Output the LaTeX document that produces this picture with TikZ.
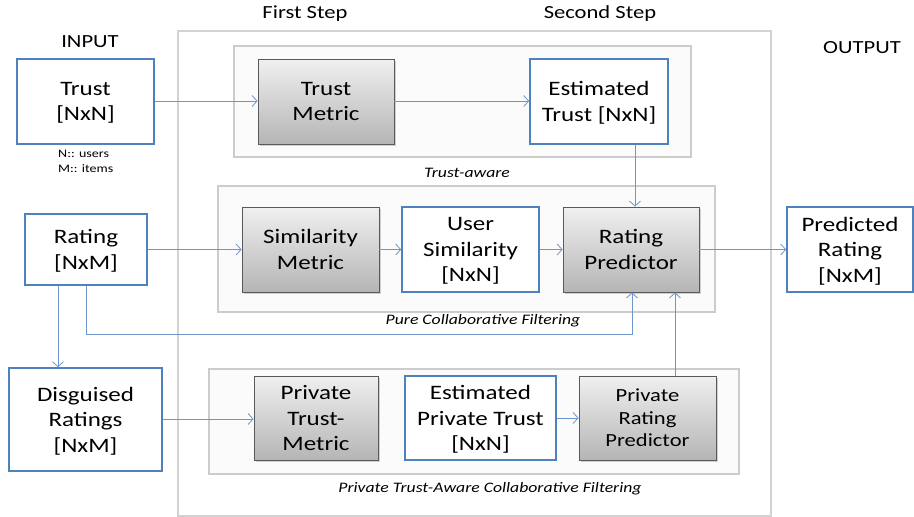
\documentclass[tikz,border=0pt]{standalone}
\usepackage{fontspec}
\setmainfont{Carlito}[FakeStretch=1.22]
\usetikzlibrary{arrows.meta,shadows}
\begin{document}
\begin{tikzpicture}[x=1pt,y=-1pt,
  panel/.style={draw=gray!35,line width=1.2pt,fill=white},
  group/.style={draw=gray!40,line width=1.2pt,fill=gray!3},
  data/.style={draw={rgb,255:red,79;green,129;blue,189},line width=1.6pt,fill=white,align=center,inner sep=0pt,text depth=-3pt,font=\fontsize{20.5}{25.5}\selectfont},
  proc/.style={draw=gray!70!black,line width=0.8pt,top color=gray!12,bottom color=gray!58,align=center,inner sep=0pt,text depth=-3pt,
    drop shadow={opacity=0.35,shadow xshift=1.5pt,shadow yshift=-1.5pt},font=\fontsize{20.5}{25.5}\selectfont},
  title/.style={font=\fontsize{18.5}{22}\selectfont},
  grouplabel/.style={font=\fontsize{14.5}{17}\selectfont\itshape},
  conn/.style={draw={rgb,255:red,110;green,150;blue,205},line width=0.8pt,-{Straight Barb[length=5pt,width=11pt]}}
]
\useasboundingbox (0,0) rectangle (914,517);
% panels
\draw[panel] (178,31) rectangle (771,516);
\draw[group] (234,46) rectangle (691,157);
\draw[group] (218,186) rectangle (715,312);
\draw[group] (209,369) rectangle (739,474);

% titles
\node[title] (tin) at (90,42) {INPUT};
\node[title] (tfs) at (305,14) {First Step};
\node[title] (tss) at (600,14) {Second Step};
\node[title] (tout) at (862,48) {OUTPUT};
\node[grouplabel] (gta) at (467,173) {Trust-aware};
\node[grouplabel] (gpc) at (483,321) {Pure Collaborative Filtering};
\node[grouplabel] (gptc) at (490,489) {Private Trust-Aware Collaborative Filtering};
\node[align=left,font=\fontsize{11.5}{15}\selectfont,anchor=north west,inner sep=0pt] (legend) at (58,150) {N:: users\\M:: items};

% data nodes
\node[data,minimum width=137pt,minimum height=85pt] (trust) at (85.5,101.5) {Trust\\{}[NxN]};
\node[data,minimum width=138pt,minimum height=85pt] (estt) at (599,101.5) {Estimated\\Trust [NxN]};
\node[data,minimum width=122pt,minimum height=71pt] (rating) at (86,249.5) {Rating\\{}[NxM]};
\node[data,minimum width=137pt,minimum height=85pt] (usim) at (470.5,249.5) {User\\Similarity\\{}[NxN]};
\node[data,minimum width=126pt,minimum height=85pt] (pred) at (850,249.5) {Predicted\\Rating\\{}[NxM]};
\node[data,minimum width=153pt,minimum height=103pt] (disg) at (85.5,419.5) {Disguised\\Ratings\\{}[NxM]};
\node[data,minimum width=151pt,minimum height=84pt] (ept) at (480.5,418) {Estimated\\Private Trust\\{}[NxN]};

% process nodes
\node[proc,minimum width=136pt,minimum height=85pt] (tm) at (326,101.5) {Trust\\Metric};
\node[proc,minimum width=137pt,minimum height=85pt] (sm) at (310.5,249.5) {Similarity\\Metric};
\node[proc,minimum width=136pt,minimum height=85pt] (rp) at (631,249.5) {Rating\\Predictor};
\node[proc,minimum width=124pt,minimum height=84pt] (ptm) at (316,418) {Private\\Trust-\\Metric};
\node[proc,minimum width=137pt,minimum height=84pt,font=\fontsize{18.5}{22.5}\selectfont] (prp) at (647.5,418) {Private\\Rating\\Predictor};

% connectors
\draw[conn] (trust.east |- 0,101) -- (tm.west |- 0,101);
\draw[conn] (tm.east |- 0,101) -- (estt.west |- 0,101);
\draw[conn] (estt.south -| 635,0) -- (rp.north -| 635,0);
\draw[conn] (rating.east) -- (sm.west);
\draw[conn] (sm.east) -- (usim.west);
\draw[conn] (usim.east) -- (rp.west);
\draw[conn] (rp.east) -- (pred.west);
\coordinate (c1) at (86,334);
\coordinate (c2) at (632,334);
\draw[conn] (rating.south -| c1) -- (c1) -- (c2) -- (rp.south -| c2);
\draw[conn] (rating.south -| 58,0) -- (disg.north -| 58,0);
\draw[conn] (disg.east |- 0,419) -- (ptm.west |- 0,419);
\draw[conn] (ept.east |- 0,418) -- (prp.west |- 0,418);
\draw[conn] (prp.north -| 675,0) -- (rp.south -| 675,0);
\end{tikzpicture}
\end{document}
